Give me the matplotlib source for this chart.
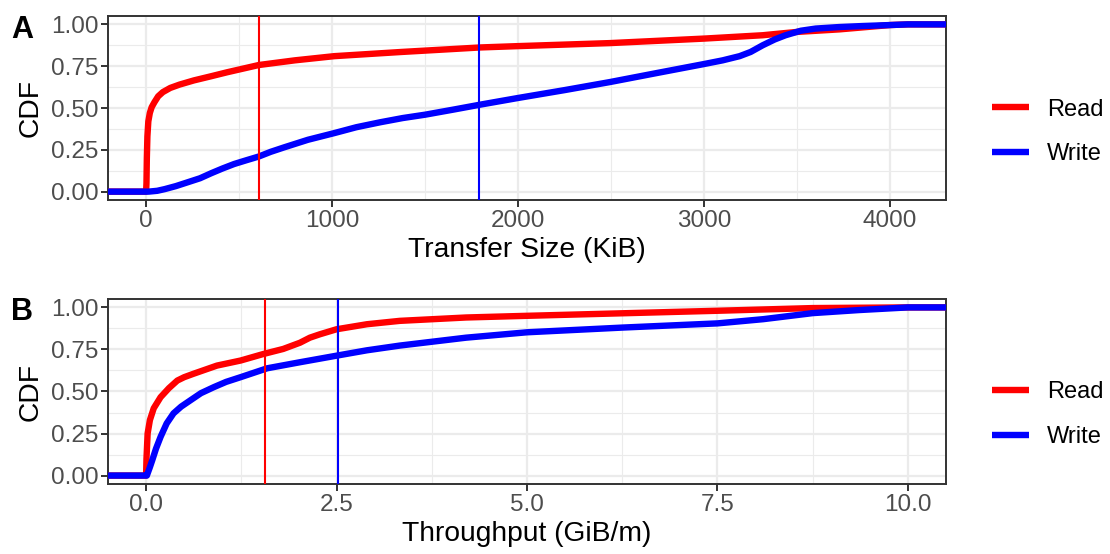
import numpy as np
import matplotlib
matplotlib.use("Agg")
import matplotlib.pyplot as plt
from matplotlib.lines import Line2D

plt.rcParams['font.family'] = ['Liberation Sans', 'DejaVu Sans']

# Panel A: transfer size CDF (KiB)
size_read_x = [0, 2, 4, 7, 12, 20, 30, 45, 65, 90, 130, 180, 257, 350, 437, 606, 800,
               1012, 1372, 1796, 2000, 2493, 3000, 3315, 3500, 3726, 4000, 4096]
size_read_y = [0.0, 0.05, 0.20, 0.33, 0.42, 0.47, 0.505, 0.535, 0.57, 0.595, 0.62, 0.64,
               0.665, 0.69, 0.714, 0.757, 0.785, 0.81, 0.835, 0.862, 0.87, 0.888, 0.915,
               0.935, 0.955, 0.97, 0.996, 1.0]
size_write_x = [0, 14, 60, 100, 160, 221, 290, 350, 410, 473, 540, 606, 670, 743, 870,
                1012, 1130, 1260, 1380, 1500, 1650, 1796, 2000, 2250, 2493, 2750, 3000,
                3100, 3191, 3250, 3315, 3380, 3438, 3520, 3600, 3726, 3850, 4000, 4096]
size_write_y = [0.0, 0.0, 0.005, 0.015, 0.033, 0.055, 0.08, 0.11, 0.138, 0.165, 0.188,
                0.21, 0.238, 0.265, 0.31, 0.35, 0.385, 0.415, 0.44, 0.46, 0.49, 0.52,
                0.56, 0.607, 0.655, 0.71, 0.763, 0.785, 0.81, 0.835, 0.875, 0.91, 0.935,
                0.962, 0.975, 0.984, 0.99, 0.996, 1.0]
size_read_mark = 606
size_write_mark = 1790

# Panel B: throughput CDF (GiB/m)
tput_read_x = [0, 0.005, 0.02, 0.05, 0.1, 0.19, 0.3, 0.41, 0.5, 0.62, 0.93, 1.24, 1.54,
               1.80, 2.02, 2.15, 2.28, 2.5, 2.9, 3.33, 4.2, 5.0, 6.25, 7.5, 8.75, 10.0]
tput_read_y = [0.0, 0.10, 0.25, 0.33, 0.40, 0.466, 0.52, 0.565, 0.585, 0.605, 0.654,
               0.684, 0.723, 0.753, 0.79, 0.82, 0.84, 0.87, 0.90, 0.92, 0.94, 0.95,
               0.965, 0.98, 0.996, 1.0]
tput_write_x = [0, 0.01, 0.05, 0.08, 0.13, 0.19, 0.27, 0.36, 0.46, 0.58, 0.72, 0.89,
                1.05, 1.24, 1.59, 2.02, 2.5, 2.9, 3.33, 4.2, 5.0, 6.25, 7.5, 8.1, 8.75,
                9.35, 10.0]
tput_write_y = [0.0, 0.0, 0.05, 0.09, 0.16, 0.23, 0.31, 0.37, 0.41, 0.447, 0.49, 0.526,
                0.557, 0.585, 0.638, 0.674, 0.713, 0.745, 0.773, 0.82, 0.852, 0.88,
                0.905, 0.93, 0.966, 0.984, 1.0]
tput_read_mark = 1.56
tput_write_mark = 2.52

labels = ['Read', 'Write']
colors = ['#FF0000', '#0000FF']

GRID = '#EBEBEB'
TICK = '#4D4D4D'
BORDER = '#333333'


def style_axes(ax, xlim, xmajor, xminor, xfmt):
    ax.set_xlim(*xlim)
    ax.set_ylim(-0.05, 1.05)
    ax.set_xticks(xmajor)
    ax.set_xticks(xminor, minor=True)
    ax.set_xticklabels([xfmt(v) for v in xmajor])
    ax.set_yticks([0, 0.25, 0.5, 0.75, 1.0])
    ax.set_yticks([0.125, 0.375, 0.625, 0.875], minor=True)
    ax.set_yticklabels(['0.00', '0.25', '0.50', '0.75', '1.00'])
    ax.grid(which='major', color=GRID, linewidth=1.6, zorder=0)
    ax.grid(which='minor', color=GRID, linewidth=0.8, zorder=0)
    ax.set_axisbelow(True)
    ax.tick_params(which='major', length=5, width=1.4, color=BORDER,
                   labelsize=17.5, labelcolor=TICK, pad=2)
    ax.tick_params(which='minor', length=0)
    for sp in ax.spines.values():
        sp.set_color(BORDER)
        sp.set_linewidth(1.4)
    ax.set_ylabel('CDF', fontsize=20.3, labelpad=5)


def draw_cdf(ax, xs, ys, color, xlim):
    # pad the ecdf out to both panel edges
    x = np.r_[xlim[0], xs, xlim[1]]
    y = np.r_[0.0, ys, 1.0]
    ax.plot(x, y, color=color, linewidth=4.6, solid_capstyle='butt',
            solid_joinstyle='round', zorder=3)


fig = plt.figure(figsize=(11.1, 5.54), dpi=100)
ax_a = fig.add_axes([0.0973, 0.639, 0.7550, 0.3321])
ax_b = fig.add_axes([0.0973, 0.1264, 0.7550, 0.3339])

xlim_a = (-204.8, 4300.8)
draw_cdf(ax_a, size_read_x, size_read_y, colors[0], xlim_a)
draw_cdf(ax_a, size_write_x, size_write_y, colors[1], xlim_a)
ax_a.axvline(size_read_mark, color=colors[0], linewidth=1.5, zorder=4)
ax_a.axvline(size_write_mark, color=colors[1], linewidth=1.5, zorder=4)
style_axes(ax_a, xlim_a, [0, 1000, 2000, 3000, 4000], [500, 1500, 2500, 3500],
           lambda v: f'{v:d}')
ax_a.set_xlabel('Transfer Size (KiB)', fontsize=20.3, labelpad=4)

xlim_b = (-0.5, 10.5)
draw_cdf(ax_b, tput_read_x, tput_read_y, colors[0], xlim_b)
draw_cdf(ax_b, tput_write_x, tput_write_y, colors[1], xlim_b)
ax_b.axvline(tput_read_mark, color=colors[0], linewidth=1.5, zorder=4)
ax_b.axvline(tput_write_mark, color=colors[1], linewidth=1.5, zorder=4)
style_axes(ax_b, xlim_b, [0, 2.5, 5.0, 7.5, 10.0], [1.25, 3.75, 6.25, 8.75],
           lambda v: f'{v:.1f}')
ax_b.set_xlabel('Throughput (GiB/m)', fontsize=20.3, labelpad=4)

# panel tags
fig.text(0.010, 0.946, 'A', fontsize=22, fontweight='bold', va='center')
fig.text(0.010, 0.436, 'B', fontsize=22, fontweight='bold', va='center')

# legends to the right of each panel
handles = [Line2D([], [], color=c, linewidth=4.6, solid_capstyle='butt') for c in colors]
for yc in (0.762, 0.2515):
    fig.legend(handles, labels, loc='center left', bbox_to_anchor=(0.894, yc),
               frameon=False, fontsize=17, handlelength=1.55, handletextpad=0.75,
               labelspacing=0.95, borderaxespad=0, borderpad=0)

fig.savefig('out.png', dpi=100)
